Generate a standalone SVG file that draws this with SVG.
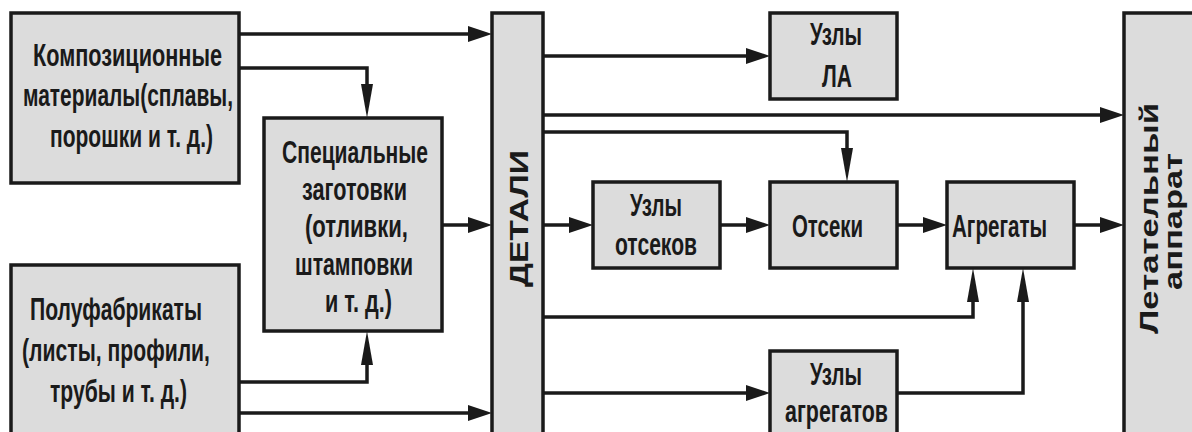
<svg xmlns="http://www.w3.org/2000/svg" width="1192" height="432" viewBox="0 0 1192 432">
<style>
.box{fill:#dcdcdc;stroke:#1a1a1a;stroke-width:3.5}
.t{font-family:"Liberation Sans",Arial,sans-serif;font-weight:bold;font-size:32px;fill:#1a1a1a}
.tb{font-family:"Liberation Sans",Arial,sans-serif;font-weight:bold;font-size:25px;fill:#1a1a1a}
.c{fill:none;stroke:#1a1a1a;stroke-width:3.5}
.h{marker-end:url(#ah)}
.v{marker-end:url(#av)}
</style>
<defs>
<marker id="ah" viewBox="0 0 24 16" refX="12" refY="8" markerWidth="24" markerHeight="16" markerUnits="userSpaceOnUse" orient="auto">
<path d="M0,0 L24,8 L0,16 z" fill="#1a1a1a"/>
</marker>
<marker id="av" viewBox="0 0 34 12" refX="22" refY="6" markerWidth="34" markerHeight="12" markerUnits="userSpaceOnUse" orient="auto">
<path d="M0,0 L34,6 L0,12 z" fill="#1a1a1a"/>
</marker>
</defs>
<rect width="1192" height="432" fill="#ffffff"/>
<g id="connectors">
<path class="c h" d="M239,34 H480"/>
<path class="c v" d="M239,68 H367 V106"/>
<path class="c v" d="M239,382 H367 V343"/>
<path class="c h" d="M239,413 H480"/>
<path class="c h" d="M442,225 H480"/>
<path class="c h" d="M543,56 H758"/>
<path class="c h" d="M543,115 H1112"/>
<path class="c v" d="M543,132 H847 V170"/>
<path class="c h" d="M543,225 H581"/>
<path class="c h" d="M720,225 H758"/>
<path class="c h" d="M897,225 H935"/>
<path class="c h" d="M1074,225 H1112"/>
<path class="c v" d="M543,317 H973 V280"/>
<path class="c h" d="M543,393 H758"/>
<path class="c v" d="M897,393 H1023 V280"/>
</g>
<g id="composites">
<rect class="box" x="11" y="13" width="228" height="170"/>
<text class="t" x="33" y="66" textLength="189" lengthAdjust="spacingAndGlyphs">Композиционные</text>
<text class="t" x="23" y="106" textLength="210" lengthAdjust="spacingAndGlyphs">материалы(сплавы,</text>
<text class="t" x="50" y="147" textLength="163" lengthAdjust="spacingAndGlyphs">порошки и т. д.)</text>
</g>
<g id="semifinished">
<rect class="box" x="11" y="265" width="228" height="190"/>
<text class="t" x="30" y="320" textLength="172" lengthAdjust="spacingAndGlyphs">Полуфабрикаты</text>
<text class="t" x="22" y="361" textLength="188" lengthAdjust="spacingAndGlyphs">(листы, профили,</text>
<text class="t" x="50" y="402" textLength="137" lengthAdjust="spacingAndGlyphs">трубы и т. д.)</text>
</g>
<g id="blanks">
<rect class="box" x="264" y="118" width="178" height="213"/>
<text class="t" x="282" y="163" textLength="146" lengthAdjust="spacingAndGlyphs">Специальные</text>
<text class="t" x="302" y="200" textLength="105" lengthAdjust="spacingAndGlyphs">заготовки</text>
<text class="t" x="305" y="237" textLength="103" lengthAdjust="spacingAndGlyphs">(отливки,</text>
<text class="t" x="295" y="275" textLength="118" lengthAdjust="spacingAndGlyphs">штамповки</text>
<text class="t" x="325" y="312" textLength="67" lengthAdjust="spacingAndGlyphs">и т. д.)</text>
</g>
<g id="details">
<rect class="box" x="492" y="13" width="51" height="440"/>
<text class="tb" transform="translate(528,287) rotate(-90)" x="0" y="0" textLength="137" lengthAdjust="spacingAndGlyphs">ДЕТАЛИ</text>
</g>
<g id="uzly-la">
<rect class="box" x="770" y="13" width="127" height="86"/>
<text class="t" x="810" y="45" textLength="52" lengthAdjust="spacingAndGlyphs">Узлы</text>
<text class="t" x="822" y="87" textLength="30" lengthAdjust="spacingAndGlyphs">ЛА</text>
</g>
<g id="uzly-otsekov">
<rect class="box" x="593" y="182" width="127" height="86"/>
<text class="t" x="630" y="216" textLength="52" lengthAdjust="spacingAndGlyphs">Узлы</text>
<text class="t" x="615" y="255" textLength="82" lengthAdjust="spacingAndGlyphs">отсеков</text>
</g>
<g id="otseki">
<rect class="box" x="770" y="182" width="127" height="86"/>
<text class="t" x="792" y="237" textLength="71" lengthAdjust="spacingAndGlyphs">Отсеки</text>
</g>
<g id="agregaty">
<rect class="box" x="947" y="182" width="127" height="86"/>
<text class="t" x="952" y="237" textLength="95" lengthAdjust="spacingAndGlyphs">Агрегаты</text>
</g>
<g id="uzly-agregatov">
<rect class="box" x="770" y="351" width="127" height="100"/>
<text class="t" x="810" y="385" textLength="52" lengthAdjust="spacingAndGlyphs">Узлы</text>
<text class="t" x="785" y="422" textLength="103" lengthAdjust="spacingAndGlyphs">агрегатов</text>
</g>
<g id="aircraft">
<rect class="box" x="1124" y="13" width="100" height="440"/>
<text class="tb" transform="translate(1158,334) rotate(-90)" x="0" y="0" textLength="231" lengthAdjust="spacingAndGlyphs">Летательный</text>
<text class="tb" transform="translate(1182,290) rotate(-90)" x="0" y="0" textLength="137" lengthAdjust="spacingAndGlyphs">аппарат</text>
</g>
</svg>
